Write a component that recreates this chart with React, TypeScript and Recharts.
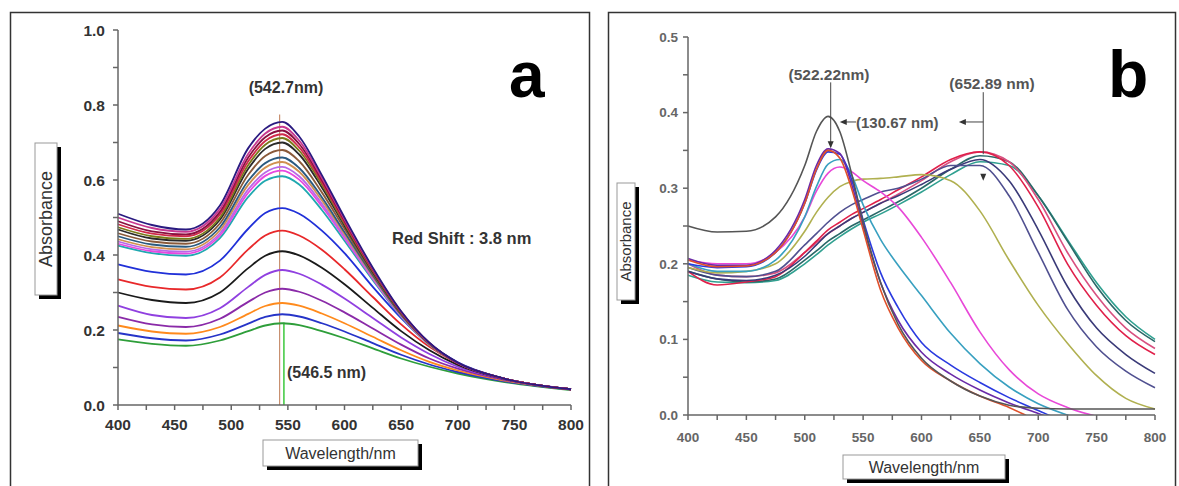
import React from "react";
import { LineChart, Line, XAxis, YAxis, ReferenceLine, ReferenceDot } from "recharts";

const FONT = "'Liberation Sans', Arial, sans-serif";

// ---- panel a ----
const waveA = [400, 430, 460, 490, 515, 530, 545, 560, 580, 600, 625, 650, 675, 700, 740, 800];
const xTicksA = [400, 425, 450, 475, 500, 525, 550, 575, 600, 625, 650, 675, 700, 725, 750, 775, 800];
const yTicksA = [0, 0.1, 0.2, 0.3, 0.4, 0.5, 0.6, 0.7, 0.8, 0.9, 1.0];

const a01 = [0.175, 0.163, 0.158, 0.172, 0.197, 0.212, 0.218, 0.213, 0.197, 0.178, 0.151, 0.124, 0.102, 0.084, 0.062, 0.04];
const a02 = [0.192, 0.178, 0.172, 0.188, 0.217, 0.235, 0.242, 0.236, 0.218, 0.196, 0.165, 0.134, 0.108, 0.088, 0.064, 0.041];
const a03 = [0.212, 0.196, 0.19, 0.208, 0.243, 0.264, 0.272, 0.265, 0.244, 0.218, 0.182, 0.146, 0.115, 0.092, 0.066, 0.041];
const a04 = [0.235, 0.215, 0.208, 0.23, 0.275, 0.3, 0.31, 0.302, 0.278, 0.247, 0.204, 0.161, 0.124, 0.097, 0.068, 0.042];
const a05 = [0.265, 0.24, 0.232, 0.258, 0.315, 0.347, 0.36, 0.35, 0.321, 0.284, 0.232, 0.18, 0.136, 0.102, 0.069, 0.042];
const a06 = [0.3, 0.28, 0.272, 0.3, 0.365, 0.398, 0.41, 0.399, 0.366, 0.322, 0.259, 0.197, 0.146, 0.107, 0.07, 0.042];
const a07 = [0.335, 0.315, 0.308, 0.34, 0.415, 0.452, 0.465, 0.452, 0.414, 0.362, 0.288, 0.215, 0.155, 0.111, 0.071, 0.042];
const a08 = [0.375, 0.355, 0.348, 0.385, 0.47, 0.512, 0.525, 0.51, 0.465, 0.405, 0.315, 0.232, 0.163, 0.114, 0.071, 0.042];
const a09 = [0.425, 0.405, 0.398, 0.445, 0.555, 0.598, 0.61, 0.588, 0.52, 0.438, 0.333, 0.235, 0.16, 0.112, 0.071, 0.042];
const a10 = [0.43, 0.41, 0.404, 0.452, 0.566, 0.611, 0.625, 0.601, 0.53, 0.445, 0.337, 0.237, 0.161, 0.112, 0.071, 0.042];
const a11 = [0.436, 0.415, 0.409, 0.458, 0.575, 0.62, 0.635, 0.61, 0.537, 0.45, 0.34, 0.239, 0.162, 0.112, 0.071, 0.042];
const a12 = [0.442, 0.421, 0.415, 0.466, 0.587, 0.633, 0.648, 0.622, 0.546, 0.456, 0.343, 0.24, 0.162, 0.112, 0.071, 0.042];
const a13 = [0.45, 0.428, 0.422, 0.474, 0.598, 0.645, 0.66, 0.632, 0.554, 0.461, 0.346, 0.241, 0.163, 0.112, 0.071, 0.042];
const a14 = [0.458, 0.436, 0.43, 0.484, 0.614, 0.664, 0.68, 0.65, 0.567, 0.47, 0.35, 0.243, 0.163, 0.112, 0.071, 0.042];
const a15 = [0.468, 0.444, 0.438, 0.494, 0.63, 0.683, 0.7, 0.668, 0.58, 0.478, 0.354, 0.245, 0.164, 0.112, 0.071, 0.042];
const a16 = [0.474, 0.45, 0.443, 0.5, 0.64, 0.694, 0.712, 0.678, 0.588, 0.483, 0.357, 0.246, 0.164, 0.112, 0.071, 0.042];
const a17 = [0.482, 0.457, 0.45, 0.508, 0.65, 0.704, 0.722, 0.687, 0.594, 0.487, 0.359, 0.247, 0.165, 0.112, 0.071, 0.042];
const a18 = [0.49, 0.463, 0.455, 0.515, 0.66, 0.714, 0.732, 0.696, 0.6, 0.491, 0.361, 0.248, 0.165, 0.112, 0.071, 0.042];
const a19 = [0.5, 0.472, 0.462, 0.523, 0.67, 0.724, 0.742, 0.705, 0.606, 0.495, 0.363, 0.249, 0.165, 0.112, 0.071, 0.042];
const a20 = [0.51, 0.48, 0.468, 0.532, 0.685, 0.737, 0.755, 0.716, 0.613, 0.5, 0.366, 0.25, 0.166, 0.113, 0.071, 0.042];

const seriesA = [
  { key: "a01", color: "#2e9e3a", values: a01 },
  { key: "a02", color: "#2634c8", values: a02 },
  { key: "a03", color: "#ff8a1c", values: a03 },
  { key: "a04", color: "#8a2aa8", values: a04 },
  { key: "a05", color: "#9040e0", values: a05 },
  { key: "a06", color: "#1a1a1a", values: a06 },
  { key: "a07", color: "#e8282a", values: a07 },
  { key: "a08", color: "#2030d8", values: a08 },
  { key: "a09", color: "#20a8b0", values: a09 },
  { key: "a10", color: "#e848e0", values: a10 },
  { key: "a11", color: "#b868e8", values: a11 },
  { key: "a12", color: "#d09050", values: a12 },
  { key: "a13", color: "#2a5a80", values: a13 },
  { key: "a14", color: "#8a5a3a", values: a14 },
  { key: "a15", color: "#2a2a2a", values: a15 },
  { key: "a16", color: "#7a7a1a", values: a16 },
  { key: "a17", color: "#d02a4a", values: a17 },
  { key: "a18", color: "#8a1040", values: a18 },
  { key: "a19", color: "#c83890", values: a19 },
  { key: "a20", color: "#2a1a80", values: a20 },
];

// ---- panel b ----
const waveB = [400, 425, 450, 475, 500, 510, 520, 530, 540, 550, 565, 580, 600, 625, 650, 675, 700, 725, 750, 775, 800];
const xTicksB = xTicksA;
const yTicksB = [0, 0.05, 0.1, 0.15, 0.2, 0.25, 0.3, 0.35, 0.4, 0.45, 0.5];

const bGrey = [0.25, 0.242, 0.243, 0.262, 0.33, 0.375, 0.395, 0.375, 0.32, 0.255, 0.175, 0.12, 0.075, 0.045, 0.025, 0.013, 0.009, 0.008, 0.008, 0.008, 0.008];
const bOrange = [0.205, 0.196, 0.197, 0.215, 0.28, 0.325, 0.35, 0.34, 0.3, 0.245, 0.165, 0.115, 0.072, 0.045, 0.025, 0.01, -0.008, -0.02, -0.03, -0.03, -0.03];
const bPurple = [0.207, 0.198, 0.198, 0.218, 0.285, 0.33, 0.352, 0.346, 0.306, 0.25, 0.175, 0.125, 0.083, 0.054, 0.033, 0.016, 0.002, -0.012, -0.02, -0.03, -0.03];
const bBlue = [0.2, 0.195, 0.196, 0.215, 0.28, 0.324, 0.348, 0.345, 0.312, 0.258, 0.188, 0.142, 0.096, 0.066, 0.043, 0.023, 0.006, -0.01, -0.02, -0.03, -0.03];
const bCyan = [0.2, 0.19, 0.19, 0.205, 0.262, 0.302, 0.332, 0.338, 0.318, 0.278, 0.232, 0.198, 0.158, 0.108, 0.068, 0.037, 0.015, 0.0, -0.012, -0.02, -0.03];
const bMagenta = [0.205, 0.2, 0.2, 0.215, 0.262, 0.296, 0.32, 0.328, 0.322, 0.31, 0.295, 0.275, 0.235, 0.175, 0.11, 0.06, 0.028, 0.01, -0.002, -0.012, -0.02];
const bOlive = [0.195, 0.188, 0.19, 0.2, 0.243, 0.268, 0.288, 0.302, 0.309, 0.312, 0.313, 0.315, 0.318, 0.31, 0.27, 0.205, 0.145, 0.095, 0.052, 0.022, 0.008];
const bSlate = [0.195, 0.185, 0.183, 0.19, 0.225, 0.24, 0.255, 0.268, 0.278, 0.285, 0.295, 0.3, 0.312, 0.33, 0.33, 0.29, 0.215, 0.14, 0.09, 0.058, 0.036];
const bNavy = [0.19, 0.18, 0.178, 0.185, 0.21, 0.225, 0.24, 0.25, 0.26, 0.268, 0.28, 0.29, 0.305, 0.325, 0.338, 0.31, 0.245, 0.17, 0.115, 0.08, 0.055];
const bCrimson = [0.19, 0.172, 0.176, 0.183, 0.215, 0.23, 0.245, 0.255, 0.265, 0.273, 0.285, 0.298, 0.315, 0.338, 0.348, 0.33, 0.275, 0.2, 0.145, 0.105, 0.08];
const bPink = [0.2, 0.185, 0.183, 0.188, 0.215, 0.228, 0.24, 0.25, 0.26, 0.268, 0.28, 0.292, 0.31, 0.335, 0.348, 0.335, 0.285, 0.215, 0.158, 0.115, 0.088];
const bDkTeal = [0.19, 0.18, 0.176, 0.18, 0.205, 0.217, 0.23, 0.24, 0.25, 0.258, 0.27, 0.282, 0.3, 0.325, 0.343, 0.335, 0.29, 0.23, 0.17, 0.125, 0.097];
const bTeal = [0.185, 0.176, 0.175, 0.178, 0.2, 0.212, 0.225, 0.236, 0.246, 0.255, 0.266, 0.278, 0.295, 0.318, 0.335, 0.33, 0.29, 0.232, 0.175, 0.13, 0.1];

const seriesB = [
  { key: "bTeal", color: "#30a090", values: bTeal },
  { key: "bDkTeal", color: "#2a6868", values: bDkTeal },
  { key: "bPink", color: "#d85080", values: bPink },
  { key: "bCrimson", color: "#e0204a", values: bCrimson },
  { key: "bNavy", color: "#3a3a78", values: bNavy },
  { key: "bSlate", color: "#505090", values: bSlate },
  { key: "bOlive", color: "#b0b050", values: bOlive },
  { key: "bMagenta", color: "#e848d8", values: bMagenta },
  { key: "bCyan", color: "#38a0c0", values: bCyan },
  { key: "bBlue", color: "#2a3ae0", values: bBlue },
  { key: "bPurple", color: "#6a2aa8", values: bPurple },
  { key: "bOrange", color: "#e0502a", values: bOrange },
  { key: "bGrey", color: "#555555", values: bGrey },
];

const dataA = waveA.map((w, i) => {
  const row: Record<string, number> = { w };
  seriesA.forEach((s) => (row[s.key] = s.values[i]));
  return row;
});
const dataB = waveB.map((w, i) => {
  const row: Record<string, number> = { w };
  seriesB.forEach((s) => (row[s.key] = s.values[i]));
  return row;
});

const xFmt = (v: number) => (v % 50 === 0 ? String(v) : "");
const yFmtA = (v: number) => (Math.round(v * 10) % 2 === 0 ? v.toFixed(1) : "");
const yFmtB = (v: number) => (Math.round(v * 100) % 10 === 0 ? v.toFixed(1) : "");

const arrowDown = (p: any) => (
  <polygon points={`${p.cx - 3},${p.cy - 7} ${p.cx + 3},${p.cy - 7} ${p.cx},${p.cy}`} fill="#333" />
);
const arrowLeft = (p: any) => (
  <polygon points={`${p.cx},${p.cy} ${p.cx + 7},${p.cy - 3} ${p.cx + 7},${p.cy + 3}`} fill="#333" />
);

function LabelBox({ x, y, w, h, text, size, vertical }: any) {
  return (
    <g>
      <rect x={x + 4} y={y + 4} width={w} height={h} fill="#000" />
      <rect x={x} y={y} width={w} height={h} fill="#fff" stroke="#999" strokeWidth={1} />
      {vertical ? (
        <text
          transform={`translate(${x + w / 2 + size * 0.36},${y + h / 2}) rotate(-90)`}
          textAnchor="middle"
          fontSize={size}
          fill="#333"
          fontFamily={FONT}
        >
          {text}
        </text>
      ) : (
        <text x={x + w / 2} y={y + h / 2 + size * 0.36} textAnchor="middle" fontSize={size} fill="#333" fontFamily={FONT}>
          {text}
        </text>
      )}
    </g>
  );
}

export default function App() {
  return (
    <div style={{ position: "relative", width: 1179, height: 486, overflow: "hidden", background: "#fff", fontFamily: FONT }}>
      <style>{"body{margin:0}"}</style>
      <div style={{ position: "absolute", left: 0, top: 0 }}>
        <LineChart width={590} height={486} data={dataA} margin={{ top: 30, right: 19, bottom: 51, left: 0 }}>
          <XAxis
            dataKey="w"
            type="number"
            domain={[400, 800]}
            ticks={xTicksA}
            tickFormatter={xFmt}
            height={30}
            stroke="#666"
            strokeWidth={1.5}
            tickSize={5}
            tickMargin={9}
            tick={{ fontSize: 15.5, fontWeight: 700, fill: "#333", fontFamily: FONT }}
          />
          <YAxis
            type="number"
            domain={[0, 1]}
            ticks={yTicksA}
            tickFormatter={yFmtA}
            width={118}
            stroke="#666"
            strokeWidth={1.5}
            tickSize={5}
            tickMargin={8}
            tick={{ fontSize: 15.5, fontWeight: 700, fill: "#333", fontFamily: FONT }}
          />
          <ReferenceLine segment={[{ x: 542.7, y: 0 }, { x: 542.7, y: 0.775 }]} stroke="#c89070" strokeWidth={1.2} />
          <ReferenceLine segment={[{ x: 546.5, y: 0 }, { x: 546.5, y: 0.22 }]} stroke="#3cc83c" strokeWidth={1.5} />
          {seriesA.map((s) => (
            <Line
              key={s.key}
              dataKey={s.key}
              type="monotone"
              stroke={s.color}
              strokeWidth={1.8}
              dot={false}
              isAnimationActive={false}
            />
          ))}
        </LineChart>
      </div>
      <div style={{ position: "absolute", left: 590, top: 0 }}>
        <LineChart width={589} height={486} data={dataB} margin={{ top: 37, right: 24, bottom: 41, left: 0 }}>
          <XAxis
            dataKey="w"
            type="number"
            domain={[400, 800]}
            ticks={xTicksB}
            tickFormatter={xFmt}
            height={30}
            stroke="#666"
            strokeWidth={1.5}
            tickSize={5}
            tickMargin={12}
            tick={{ fontSize: 13.5, fontWeight: 700, fill: "#666", fontFamily: FONT }}
          />
          <YAxis
            type="number"
            domain={[0, 0.5]}
            allowDataOverflow
            ticks={yTicksB}
            tickFormatter={yFmtB}
            width={98}
            stroke="#666"
            strokeWidth={1.5}
            tickSize={5}
            tickMargin={5}
            tick={{ fontSize: 13.5, fontWeight: 700, fill: "#666", fontFamily: FONT }}
          />
          {seriesB.map((s) => (
            <Line
              key={s.key}
              dataKey={s.key}
              type="monotone"
              stroke={s.color}
              strokeWidth={1.6}
              dot={false}
              isAnimationActive={false}
            />
          ))}
          <ReferenceLine segment={[{ x: 522.22, y: 0.355 }, { x: 522.22, y: 0.44 }]} stroke="#444" strokeWidth={1} />
          <ReferenceDot x={522.22} y={0.353} r={3} shape={arrowDown} />
          <ReferenceLine segment={[{ x: 652.89, y: 0.345 }, { x: 652.89, y: 0.427 }]} stroke="#444" strokeWidth={1} />
          <ReferenceDot x={652.89} y={0.31} r={3} shape={arrowDown} />
          <ReferenceLine segment={[{ x: 634, y: 0.3876 }, { x: 652.89, y: 0.3876 }]} stroke="#444" strokeWidth={1} />
          <ReferenceDot x={632} y={0.3876} r={3} shape={arrowLeft} />
          <ReferenceLine segment={[{ x: 532, y: 0.3876 }, { x: 544, y: 0.3876 }]} stroke="#444" strokeWidth={1} />
          <ReferenceDot x={530} y={0.3876} r={3} shape={arrowLeft} />
        </LineChart>
      </div>
      <svg width={1179} height={486} style={{ position: "absolute", left: 0, top: 0, pointerEvents: "none" }}>
        <rect x={10.5} y={12.5} width={579} height={490} fill="none" stroke="#333" strokeWidth={1.5} />
        <rect x={608.5} y={12.5} width={567} height={490} fill="none" stroke="#333" strokeWidth={1.5} />
        <g fontFamily={FONT} fontWeight={700} fill="#333">
          <text x={286} y={93} textAnchor="middle" fontSize={16}>(542.7nm)</text>
          <text x={392} y={244} fontSize={16.5}>Red Shift : 3.8 nm</text>
          <text x={287} y={378} fontSize={16}>(546.5 nm)</text>
          <text x={509} y={97} fontSize={64} fill="#000">a</text>
          <text x={829} y={80} textAnchor="middle" fontSize={15.5} fill="#555">(522.22nm)</text>
          <text x={992} y={89} textAnchor="middle" fontSize={15.5} fill="#555">(652.89 nm)</text>
          <text x={856} y={128} fontSize={15} fill="#555">(130.67 nm)</text>
          <text x={1108} y={97} fontSize={66} fill="#000">b</text>
        </g>
        <LabelBox x={35} y={143} w={22} h={152} text="Absorbance" size={18} vertical />
        <LabelBox x={263} y={440} w={155} h={26} text="Wavelength/nm" size={16} />
        <LabelBox x={617} y={183} w={18} h={117} text="Absorbance" size={15} vertical />
        <LabelBox x={843} y={455} w={162} h={24} text="Wavelength/nm" size={16} />
      </svg>
    </div>
  );
}
